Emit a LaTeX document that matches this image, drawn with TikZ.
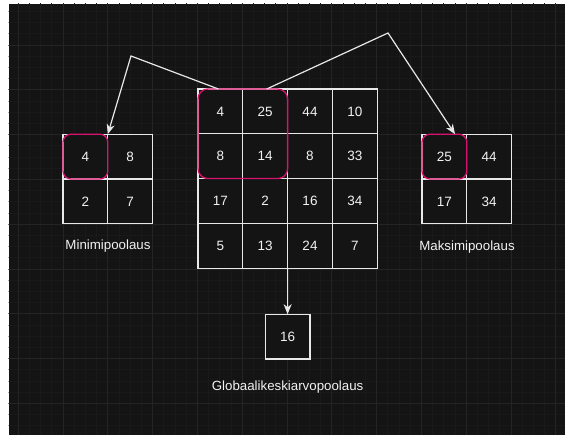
\documentclass[tikz,border=0pt]{standalone}
\usepackage{fontspec}
\setmainfont{Liberation Sans}
\usetikzlibrary{arrows.meta,fit}
\definecolor{bg}{HTML}{141414}
\definecolor{minorg}{HTML}{191919}
\definecolor{majorg}{HTML}{242424}
\definecolor{cellline}{HTML}{E8E8E8}
\definecolor{txt}{HTML}{F2F2F2}
\definecolor{hlmag}{HTML}{D8136F}
\tikzset{
  cell/.style={draw=cellline, fill=bg, minimum size=44.8pt, inner sep=0pt, outer sep=0pt,
    text=txt, font=\fontsize{13.5}{15}\selectfont, line width=1.2pt},
  hlbox/.style={draw=hlmag, line width=1.3pt, inner sep=0pt, outer sep=0pt, rounded corners=#1},
  conn/.style={draw=cellline, line width=1.2pt, -{Stealth[length=10pt,width=8pt,inset=3pt]}},
  lbl/.style={text=txt, font=\fontsize{13.3}{15}\selectfont, inner sep=0pt}
}
\begin{document}
\begin{tikzpicture}[x=1pt,y=-1pt]
\useasboundingbox (0,0) rectangle (565,435);
\fill[white] (0,0) rectangle (565,435);
\fill[bg] (8.5,4) rectangle (565,435);
\begin{scope}
\clip (8.5,4) rectangle (565,435);
\foreach \k in {0,...,50} \draw[minorg, line width=0.8pt] (18.2+11.2*\k,0) -- ++(0,440);
\foreach \k in {1,...,39} \draw[minorg, line width=0.8pt] (0,0.2+11.2*\k) -- ++(570,0);
\foreach \k in {0,...,12} \draw[majorg, line width=0.9pt] (18.2+44.8*\k,0) -- ++(0,440);
\foreach \k in {1,...,9} \draw[majorg, line width=0.9pt] (0,0.2+44.8*\k) -- ++(570,0);
\end{scope}

% main 4x4 grid
\node[cell] (m11) at (220.4,111.4) {4};
\node[cell] (m12) at (265.2,111.4) {25};
\node[cell] (m13) at (310.0,111.4) {44};
\node[cell] (m14) at (354.8,111.4) {10};
\node[cell] (m21) at (220.4,156.2) {8};
\node[cell] (m22) at (265.2,156.2) {14};
\node[cell] (m23) at (310.0,156.2) {8};
\node[cell] (m24) at (354.8,156.2) {33};
\node[cell] (m31) at (220.4,201.0) {17};
\node[cell] (m32) at (265.2,201.0) {2};
\node[cell] (m33) at (310.0,201.0) {16};
\node[cell] (m34) at (354.8,201.0) {34};
\node[cell] (m41) at (220.4,245.8) {5};
\node[cell] (m42) at (265.2,245.8) {13};
\node[cell] (m43) at (310.0,245.8) {24};
\node[cell] (m44) at (354.8,245.8) {7};

% min pooling
\node[cell] (l11) at (85.4,156.6) {4};
\node[cell] (l12) at (130.2,156.6) {8};
\node[cell] (l21) at (85.4,201.4) {2};
\node[cell] (l22) at (130.2,201.4) {7};

% max pooling
\node[cell] (r11) at (444.4,156.6) {25};
\node[cell] (r12) at (489.2,156.6) {44};
\node[cell] (r21) at (444.4,201.4) {17};
\node[cell] (r22) at (489.2,201.4) {34};

% global average
\node[cell] (g) at (287.6,336.6) {16};

% highlights
\node[hlbox=10pt, fit=(m11)(m22)] (hm) {};
\node[hlbox=8pt, fit=(l11)] (hl) {};
\node[hlbox=8pt, fit=(r11)] (hr) {};

% labels
\node[lbl] (tl) at (108,246) {Minimipoolaus};
\node[lbl] (tr) at (467,247) {Maksimipoolaus};
\node[lbl] (tg) at (287.6,387) {Globaalikeskiarvopoolaus};

% connectors
\coordinate (lbend) at (131,56);
\coordinate (rbend) at (388,33);
\draw[conn] ([xshift=-2pt]m11.north) -- (lbend) -- (l11.north east);
\draw[conn] ([xshift=1.5pt]m12.north) -- (rbend) -- ([xshift=10.6pt]r11.north);
\draw[conn] (m42.south east) -- (g.north);
\end{tikzpicture}
\end{document}
